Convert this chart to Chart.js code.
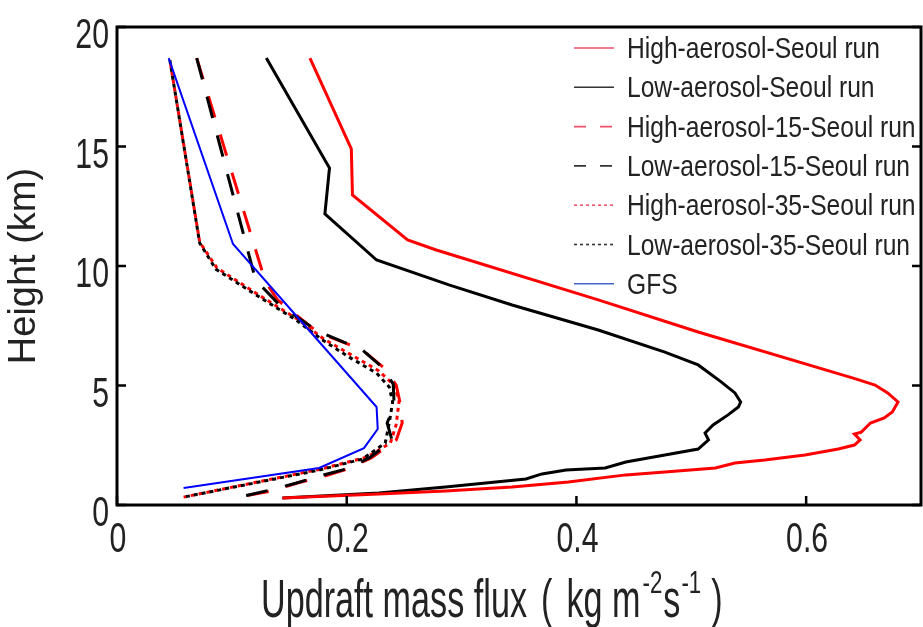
<!DOCTYPE html>
<html>
<head>
<meta charset="utf-8">
<script src="https://cdn.jsdelivr.net/npm/chart.js@4.4.1/dist/chart.umd.min.js"></script>
<style>
  html, body { margin: 0; padding: 0; background: #fff; }
  #chart { display: block; }
</style>
</head>
<body>
<canvas id="chart" width="923" height="627"></canvas>
<script>
// Dados: fluxo de massa (kg m-2 s-1) x altura (km)
const highSeoulFlux = [0.168, 0.204, 0.205, 0.253, 0.278, 0.419, 0.506, 0.641, 0.660, 0.671, 0.680, 0.675, 0.668, 0.656, 0.648, 0.642, 0.647, 0.642, 0.628, 0.599, 0.564, 0.538, 0.521, 0.477, 0.443, 0.393, 0.344, 0.286, 0.228, 0.144];
const highSeoulHeight = [18.7, 14.9, 12.97, 11.09, 10.67, 8.58, 7.24, 5.31, 5.02, 4.69, 4.31, 3.89, 3.64, 3.43, 3.05, 2.97, 2.72, 2.51, 2.34, 2.09, 1.88, 1.76, 1.55, 1.38, 1.26, 0.96, 0.75, 0.59, 0.46, 0.29];

const lowSeoulFlux = [0.130, 0.185, 0.181, 0.226, 0.289, 0.344, 0.419, 0.477, 0.506, 0.526, 0.538, 0.543, 0.541, 0.532, 0.519, 0.512, 0.515, 0.506, 0.477, 0.443, 0.425, 0.391, 0.370, 0.356, 0.286, 0.228, 0.144];
const lowSeoulHeight = [18.7, 14.1, 12.18, 10.25, 9.21, 8.37, 7.32, 6.40, 5.86, 5.15, 4.69, 4.31, 4.10, 3.77, 3.35, 3.01, 2.72, 2.34, 2.09, 1.80, 1.55, 1.46, 1.30, 1.09, 0.75, 0.50, 0.29];

const high15Flux = [0.0694, 0.1293, 0.1398, 0.1745, 0.2135, 0.2326, 0.2431, 0.2465, 0.2483, 0.2431, 0.2214, 0.2005, 0.178, 0.157, 0.1345, 0.1155, 0.1007];
const high15Height = [18.7, 9.33, 8.58, 7.24, 6.49, 5.73, 5.02, 4.27, 3.43, 2.72, 1.97, 1.51, 1.17, 0.92, 0.59, 0.42, 0.29];

const low15Flux = [0.0694, 0.1207, 0.1415, 0.1745, 0.2135, 0.2309, 0.2405, 0.2413, 0.2352, 0.2396, 0.2196, 0.1997, 0.1762, 0.1563, 0.1337, 0.1146, 0.1007];
const low15Height = [18.7, 9.41, 8.37, 7.28, 6.49, 5.77, 5.06, 4.18, 3.43, 2.68, 1.97, 1.51, 1.21, 0.92, 0.63, 0.42, 0.29];

const high35Flux = [0.046, 0.072, 0.087, 0.125, 0.157, 0.180, 0.204, 0.228, 0.241, 0.2457, 0.243, 0.238, 0.218, 0.178, 0.058];
const high35Height = [18.62, 11.0, 9.92, 8.74, 7.78, 6.95, 6.28, 5.61, 5.02, 4.39, 3.35, 2.59, 2.01, 1.51, 0.33];

const low35Flux = [0.046, 0.072, 0.086, 0.124, 0.156, 0.179, 0.202, 0.226, 0.237, 0.240, 0.237, 0.2335, 0.2135, 0.176, 0.058];
const low35Height = [18.62, 10.96, 9.87, 8.70, 7.74, 6.90, 6.19, 5.52, 4.94, 4.31, 3.43, 2.59, 1.92, 1.46, 0.33];

const gfsFlux = [0.045, 0.101, 0.226, 0.227, 0.215, 0.176, 0.058];
const gfsHeight = [18.7, 10.92, 4.10, 3.18, 2.38, 1.55, 0.71];

const xTickValues = [0, 0.2, 0.4, 0.6];
const xTickLabels = ['0', '0.2', '0.4', '0.6'];
const yTickValues = [0, 5, 10, 15, 20];
const yTickLabels = ['0', '5', '10', '15', '20'];

const TEXT = '#222';
const SANS = '"Liberation Sans", Arial, sans-serif';

function pairs(xs, ys) {
    return xs.map((v, i) => ({ x: v, y: ys[i] }));
}

function serie(label, xs, ys, cor, opts) {
    return Object.assign({
        label: label,
        data: pairs(xs, ys),
        borderColor: cor,
        borderWidth: 3,
        showLine: true,
        pointRadius: 0,
        fill: false,
        tension: 0
    }, opts);
}

const datasets = [
    serie('High-aerosol-Seoul run', highSeoulFlux, highSeoulHeight, '#ff0000', { legendColor: '#f0506a', legendDash: [] }),
    serie('Low-aerosol-Seoul run', lowSeoulFlux, lowSeoulHeight, '#000000', { legendColor: '#333333', legendDash: [] }),
    serie('High-aerosol-15-Seoul run', high15Flux, high15Height, '#ff0000', { borderDash: [22, 18], order: 2, legendColor: '#f0506a', legendDash: [12, 14] }),
    serie('Low-aerosol-15-Seoul run', low15Flux, low15Height, '#000000', { borderDash: [22, 18], order: 1, legendColor: '#333333', legendDash: [12, 14] }),
    serie('High-aerosol-35-Seoul run', high35Flux, high35Height, '#ff0000', { borderDash: [4, 4], borderDashOffset: 4, order: 4, legendColor: '#f0506a', legendDash: [3, 3] }),
    serie('Low-aerosol-35-Seoul run', low35Flux, low35Height, '#000000', { borderDash: [4, 4], order: 3, legendColor: '#333333', legendDash: [3, 3] }),
    serie('GFS', gfsFlux, gfsHeight, '#0000ff', { borderWidth: 2, order: -1, legendColor: '#4466cc', legendDash: [] })
];

// texto estreito (a figura original é comprimida na horizontal)
function narrowText(ctx, txt, x, y, size, sx, align) {
    ctx.save();
    ctx.font = size + 'px ' + SANS;
    const w = ctx.measureText(txt).width * sx;
    let x0 = x;
    if (align === 'right') x0 = x - w;
    if (align === 'center') x0 = x - w / 2;
    ctx.translate(x0, y);
    ctx.scale(sx, 1);
    ctx.fillText(txt, 0, 0);
    ctx.restore();
    return w;
}

// Moldura com ticks para dentro (estilo MATLAB) e rótulos dos ticks
const framePlugin = {
    id: 'frame',
    afterDatasetsDraw(chart) {
        const { ctx, chartArea: a, scales } = chart;
        ctx.save();
        ctx.strokeStyle = '#000';
        ctx.lineWidth = 3;
        ctx.strokeRect(a.left, a.top, a.right - a.left, a.bottom - a.top);
        ctx.lineWidth = 2.5;
        ctx.beginPath();
        scales.x.ticks.forEach(t => {
            const px = scales.x.getPixelForValue(t.value);
            ctx.moveTo(px, a.bottom);
            ctx.lineTo(px, a.bottom - 9);
        });
        scales.y.ticks.forEach(t => {
            const py = scales.y.getPixelForValue(t.value);
            ctx.moveTo(a.left, py);
            ctx.lineTo(a.left + 9, py);
            ctx.moveTo(a.right, py);
            ctx.lineTo(a.right - 9, py);
        });
        ctx.stroke();

        ctx.fillStyle = TEXT;
        ctx.textBaseline = 'alphabetic';
        scales.x.ticks.forEach((t, i) => {
            const px = scales.x.getPixelForValue(t.value);
            narrowText(ctx, xTickLabels[i], px + 1, a.bottom + 47, 42, 0.72, 'center');
        });
        scales.y.ticks.forEach((t, i) => {
            const py = scales.y.getPixelForValue(t.value);
            narrowText(ctx, yTickLabels[i], a.left - 8, py + 21, 42, 0.72, 'right');
        });
        ctx.restore();
    }
};

// Legenda própria, em lista vertical no canto superior direito
const legendPlugin = {
    id: 'customLegend',
    afterDraw(chart) {
        const ctx = chart.ctx;
        ctx.save();
        chart.data.datasets.forEach((ds, i) => {
            const base = 58 + i * 39.3;
            const ly = base - 10;
            ctx.strokeStyle = ds.legendColor;
            ctx.lineWidth = 1.6;
            ctx.setLineDash(ds.legendDash);
            ctx.beginPath();
            ctx.moveTo(574, ly);
            ctx.lineTo(614, ly);
            ctx.stroke();
            ctx.setLineDash([]);
            ctx.fillStyle = TEXT;
            ctx.textBaseline = 'alphabetic';
            narrowText(ctx, ds.label, 627, base, 30, 0.82, 'left');
        });
        ctx.restore();
    }
};

// Título do eixo x com expoentes, peças encadeadas
const xTitlePieces = [
    { text: 'Updraft mass flux', size: 54, sup: false, gap: 14 },
    { text: '(', size: 54, sup: false, gap: 14 },
    { text: 'kg m', size: 54, sup: false, gap: 2 },
    { text: '-2', size: 32, sup: true, gap: 1 },
    { text: 's', size: 54, sup: false, gap: 1 },
    { text: '-1', size: 32, sup: true, gap: 10 },
    { text: ')', size: 54, sup: false, gap: 0 }
];

const xTitlePlugin = {
    id: 'xTitle',
    afterDraw(chart) {
        const ctx = chart.ctx;
        ctx.save();
        ctx.font = '54px ' + SANS;
        const sx = 266 / ctx.measureText('Updraft mass flux').width;
        ctx.fillStyle = TEXT;
        ctx.textBaseline = 'alphabetic';
        let x = 261;
        xTitlePieces.forEach(p => {
            const w = narrowText(ctx, p.text, x, p.sup ? 593 : 617, p.size, sx * (p.sup ? 1.1 : 1), 'left');
            x += w + p.gap;
        });
        ctx.restore();
    }
};

const chart = new Chart(document.getElementById('chart'), {
    type: 'scatter',
    data: { datasets: datasets },
    plugins: [framePlugin, legendPlugin, xTitlePlugin],
    options: {
        responsive: false,
        animation: false,
        devicePixelRatio: 1,
        layout: { padding: { top: 27, right: 2, left: 0, bottom: 0 } },
        plugins: {
            legend: { display: false },
            tooltip: { enabled: false }
        },
        scales: {
            x: {
                type: 'linear',
                min: 0,
                max: 0.7,
                grid: { display: false, drawTicks: false },
                border: { display: false },
                ticks: { display: false },
                afterBuildTicks: s => { s.ticks = xTickValues.map(v => ({ value: v })); },
                afterFit: s => { s.height = 627 - 505; }
            },
            y: {
                type: 'linear',
                min: 0,
                max: 20,
                grid: { display: false, drawTicks: false },
                border: { display: false },
                ticks: { display: false },
                title: {
                    display: true,
                    text: 'Height (km)',
                    color: TEXT,
                    font: { family: SANS, size: 38 },
                    padding: { top: 2, bottom: 0 }
                },
                afterBuildTicks: s => { s.ticks = yTickValues.map(v => ({ value: v })); },
                afterFit: s => { s.width = 117; }
            }
        }
    }
});
</script>
</body>
</html>
